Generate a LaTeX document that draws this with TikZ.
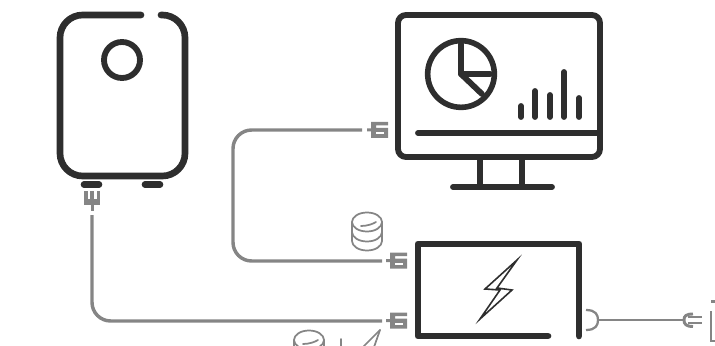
\documentclass[tikz,border=0pt]{standalone}
\usetikzlibrary{positioning}
\definecolor{darkicon}{HTML}{2E2E2E}
\definecolor{cablegray}{HTML}{858585}
\tikzset{
  icon/.style={draw=darkicon, line width=4.4pt, line cap=round, line join=round},
  cable/.style={draw=cablegray, line width=2.6pt, rounded corners=14pt},
  thincable/.style={draw=cablegray, line width=1.7pt},
  thinicon/.style={draw=cablegray, line width=1.3pt, line cap=round},
}
% one gray plug, pointing left
\newcommand{\plugicon}[2]{
  \fill[cablegray] (#1+4,#2-8) -- (#1+21,#2-8) -- (#1+21,#2-4.5) -- (#1+9,#2-4.5) -- (#1+9,#2-2)
    -- (#1+21,#2-2) -- (#1+21,#2+8) -- (#1+4,#2+8) -- (#1+4,#2+1.5) -- (#1,#2+1.5) -- (#1,#2-1.5) -- (#1+4,#2-1.5) -- cycle;
  \fill[white] (#1+9,#2+2.5) rectangle (#1+17,#2+4.5);
}
\begin{document}
\begin{tikzpicture}[x=0.75pt, y=-0.75pt]
  \useasboundingbox (0,0) rectangle (715,346);
  \clip (0,0) rectangle (715,346);
  % wall box
  \draw[icon, line width=5pt, rounded corners=17pt] (141,15) -- (60,15) -- (60,176) -- (185,176) -- (185,15) -- (161,15);
  \node[circle, draw=darkicon, line width=4.4pt, minimum size=27pt, inner sep=0pt] (lens) at (122,60) {};
  \draw[icon, line width=5pt] (84,184.5) -- (99,184.5);
  \draw[icon, line width=5pt] (145,184.5) -- (160,184.5);
  % monitor
  \draw[icon, rounded corners=6pt] (398,15) rectangle (600,157);
  \draw[icon] (418,133) -- (600,133);
  \draw[icon] (480,157) -- (480,187);
  \draw[icon] (522,157) -- (522,187);
  \draw[icon] (453,187) -- (552,187);
  \node[circle, draw=darkicon, line width=4.2pt, minimum size=50pt, inner sep=0pt] (pie) at (461,74) {};
  \draw[icon] (461,44) -- (pie.center) -- (490,74);
  \draw[icon] (pie.center) -- (482,94);
  \foreach \x/\y in {521/106, 535/91, 550/95, 564/72, 579/98}
    \draw[icon] (\x,\y) -- (\x,117);
  % battery
  \draw[icon, line width=5pt] (548,336) -- (418,336) -- (418,244) -- (579,244) -- (579,336);
  \draw[draw=darkicon, line width=1.2pt, line join=miter] (517,260) -- (485,289) -- (500,290) -- (480,319) -- (512,290) -- (497,288) -- cycle;
  % plugs and cables
  \plugicon{386}{260.5}
  \plugicon{386}{320.5}
  \plugicon{367}{130}
  \coordinate (plugA) at (382,261);
  \coordinate (plugB) at (382,321);
  \coordinate (plugC) at (362,130);
  \coordinate (plugD) at (92,215);
  \draw[cable] (plugC) -- (233,130) -- (233,261) -- (plugA);
  \draw[cable] (plugD) -- (92,321) -- (plugB);
  % plug under the wall box
  \fill[cablegray] (84,191) rectangle (100,205);
  \fill[white] (87.5,191) rectangle (90,199);
  \fill[white] (94,191) rectangle (96.5,199);
  \fill[cablegray] (90.5,205) rectangle (93.5,211);
  % outlet and power line
  \coordinate (outlet) at (598,320);
  \coordinate (plugE) at (683,320);
  \draw[thincable] (586,310) .. controls (596,310) and (598,315) .. (outlet) .. controls (598,325) and (596,330) .. (586,330);
  \draw[thincable] (outlet) -- (plugE);
  \draw[thincable, line width=2.2pt] (693,314) .. controls (686,314) and (684,316) .. (684,320) .. controls (684,324) and (686,326.5) .. (693,326.5);
  \draw[thincable] (688,317) -- (702,317);
  \draw[thincable] (688,323) -- (702,323);
  \draw[thincable] (711,301.5) -- (715,301.5);
  \draw[thincable] (711,311) -- (711,341) -- (715,341);
  % databases
  \foreach \cx/\cy in {367/222, 309/340}{
    \draw[thinicon] (\cx,\cy) ellipse[x radius=15, y radius=9.5];
    \draw[thinicon] (\cx-15,\cy) -- (\cx-15,\cy+19) arc[start angle=180, end angle=0, x radius=15, y radius=9.5] -- (\cx+15,\cy);
    \draw[thinicon] (\cx-15,\cy+10) arc[start angle=180, end angle=0, x radius=15, y radius=9.5];
    \draw[thinicon] (\cx-6,\cy+4) .. controls (\cx,\cy+4) and (\cx+6,\cy+2) .. (\cx+9,\cy);
  }
  % clipped bolt
  \draw[thinicon] (380,330) -- (360,350);
  \draw[thinicon] (380,330) -- (373,350);
  \draw[thinicon] (341,339) -- (341,350);
\end{tikzpicture}
\end{document}
